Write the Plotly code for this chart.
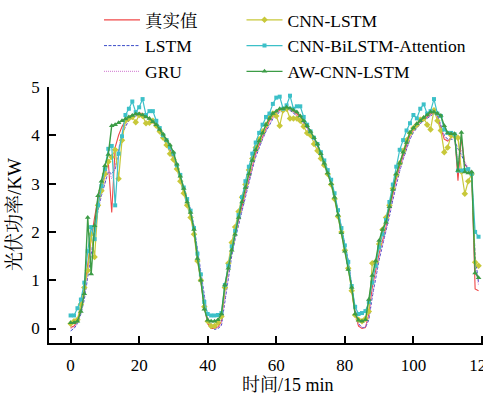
import plotly.graph_objects as go

# time index (15 min steps)
t = list(range(120))

truth = [0.02, 0.05, 0.15, 0.40, 0.80, 1.35, 1.85, 2.30, 2.70, 2.95,
         3.20, 3.45, 2.40, 3.75, 4.00, 4.18, 4.30, 4.38, 4.42, 4.45,
         4.46, 4.45, 4.40, 4.35, 4.28, 4.20, 4.10, 3.98, 3.85, 3.70,
         3.55, 3.35, 3.12, 2.90, 2.65, 2.40, 2.00, 1.50, 1.05, 0.45,
         0.10, 0.00, 0.00, 0.03, 0.15, 0.80, 1.25, 1.70, 1.98, 2.25,
         2.55, 2.85, 3.12, 3.38, 3.62, 3.80, 3.97, 4.15, 4.30, 4.40,
         4.48, 4.52, 4.54, 4.57, 4.56, 4.50, 4.45, 4.38, 4.28, 4.18,
         4.06, 3.94, 3.80, 3.62, 3.45, 3.25, 3.05, 2.75, 2.40, 2.05,
         1.70, 1.35, 0.80, 0.30, 0.05, 0.00, 0.02, 0.30, 0.85, 1.20,
         1.55, 1.82, 2.10, 2.45, 2.80, 3.10, 3.35, 3.58, 3.80, 4.00,
         4.12, 4.22, 4.28, 4.34, 4.38, 4.44, 4.48, 4.40, 4.15, 3.92,
         3.88, 3.95, 4.06, 3.06, 3.95, 3.40, 3.30, 3.22, 0.82, 0.78]

lstm = [-0.05, 0.00, 0.10, 0.30, 0.60, 1.05, 1.55, 2.00, 2.45, 2.75,
        3.00, 3.25, 3.20, 3.30, 3.70, 4.00, 4.18, 4.30, 4.36, 4.40,
        4.42, 4.42, 4.38, 4.32, 4.27, 4.18, 4.08, 3.97, 3.84, 3.70,
        3.56, 3.38, 3.16, 2.94, 2.70, 2.46, 2.12, 1.65, 1.18, 0.62,
        0.22, 0.05, -0.02, 0.00, 0.06, 0.55, 1.05, 1.50, 1.85, 2.15,
        2.45, 2.75, 3.05, 3.30, 3.55, 3.75, 3.92, 4.08, 4.22, 4.34,
        4.42, 4.48, 4.50, 4.52, 4.52, 4.46, 4.40, 4.34, 4.25, 4.15,
        4.03, 3.92, 3.78, 3.62, 3.45, 3.26, 3.05, 2.78, 2.45, 2.10,
        1.75, 1.40, 0.90, 0.40, 0.10, 0.02, 0.02, 0.18, 0.65, 1.05,
        1.42, 1.72, 2.00, 2.32, 2.66, 2.98, 3.26, 3.50, 3.72, 3.92,
        4.06, 4.16, 4.24, 4.30, 4.35, 4.40, 4.45, 4.42, 4.20, 4.00,
        3.92, 3.92, 3.90, 3.72, 3.60, 3.42, 3.30, 3.20, 1.50, 0.95]

gru = [0.00, 0.02, 0.12, 0.32, 0.65, 1.10, 1.60, 2.05, 2.48, 2.78,
       3.02, 3.28, 3.10, 3.35, 3.72, 4.02, 4.20, 4.32, 4.38, 4.42,
       4.43, 4.42, 4.38, 4.33, 4.26, 4.17, 4.07, 3.96, 3.83, 3.69,
       3.54, 3.36, 3.14, 2.92, 2.68, 2.44, 2.10, 1.62, 1.15, 0.58,
       0.18, 0.04, 0.00, 0.02, 0.08, 0.60, 1.08, 1.55, 1.88, 2.18,
       2.48, 2.78, 3.08, 3.33, 3.58, 3.77, 3.94, 4.10, 4.24, 4.36,
       4.44, 4.49, 4.51, 4.53, 4.52, 4.47, 4.41, 4.35, 4.26, 4.16,
       4.04, 3.92, 3.78, 3.61, 3.44, 3.25, 3.04, 2.76, 2.43, 2.08,
       1.73, 1.38, 0.86, 0.36, 0.08, 0.02, 0.03, 0.22, 0.70, 1.10,
       1.46, 1.75, 2.03, 2.36, 2.70, 3.02, 3.28, 3.52, 3.74, 3.94,
       4.08, 4.18, 4.25, 4.31, 4.36, 4.41, 4.46, 4.40, 4.18, 3.98,
       3.90, 3.93, 3.98, 3.50, 3.70, 3.45, 3.32, 3.22, 1.30, 0.90]

cnn_lstm = [0.10, 0.15, 0.18, 0.50, 0.85, 1.20, 1.95, 1.48, 2.55, 2.85,
            3.20, 3.45, 3.55, 3.70, 3.10, 3.90, 4.30, 4.35, 4.38, 4.27,
            4.42, 4.40, 4.25, 4.26, 4.30, 4.20, 4.08, 3.95, 3.80, 3.62,
            3.50, 3.30, 3.05, 2.80, 2.55, 2.30, 1.95, 1.40, 1.00, 0.45,
            0.15, 0.05, 0.05, 0.12, 0.25, 0.85, 1.35, 1.78, 2.10, 2.42,
            2.72, 2.98, 3.28, 3.52, 3.75, 3.92, 4.08, 4.22, 4.38, 4.45,
            4.40, 4.20, 4.52, 4.55, 4.35, 4.35, 4.35, 4.30, 4.18, 4.05,
            4.00, 3.82, 3.68, 3.52, 3.38, 3.20, 2.98, 2.68, 2.32, 2.00,
            1.62, 1.25, 0.78, 0.28, 0.18, 0.15, 0.20, 0.35, 1.35, 1.38,
            1.75, 2.05, 2.30, 2.55, 2.90, 3.18, 3.42, 3.68, 3.90, 4.05,
            4.15, 4.22, 4.32, 4.35, 4.22, 4.12, 4.52, 4.30, 4.10, 3.65,
            3.75, 4.00, 3.98, 3.95, 3.25, 2.79, 3.05, 3.20, 1.37, 1.30]

cnn_bilstm_att = [0.27, 0.27, 0.42, 0.60, 0.95, 1.60, 2.10, 1.85, 2.55, 2.95,
                  3.30, 3.72, 3.78, 2.55, 3.62, 3.98, 4.42, 4.55, 4.70, 4.48,
                  4.58, 4.75, 4.42, 4.50, 4.50, 4.30, 4.15, 4.00, 3.90, 3.75,
                  3.62, 3.38, 3.18, 2.92, 2.68, 2.44, 2.08, 1.55, 1.12, 0.55,
                  0.30, 0.27, 0.27, 0.28, 0.32, 0.90, 1.30, 1.70, 2.02, 2.35,
                  2.72, 3.05, 3.35, 3.62, 3.85, 4.05, 4.22, 4.38, 4.45, 4.65,
                  4.78, 4.80, 4.55, 4.62, 4.82, 4.55, 4.60, 4.60, 4.38, 4.22,
                  4.08, 3.95, 3.82, 3.65, 3.48, 3.28, 3.08, 2.80, 2.45, 2.08,
                  1.72, 1.38, 0.88, 0.45, 0.30, 0.32, 0.36, 0.55, 0.95, 1.30,
                  1.68, 1.95, 2.25, 2.62, 2.98, 3.35, 3.70, 3.90, 4.10, 4.25,
                  4.42, 4.35, 4.55, 4.64, 4.45, 4.50, 4.75, 4.45, 4.40, 4.12,
                  4.05, 4.05, 4.02, 3.27, 3.27, 3.28, 3.30, 3.20, 2.00, 1.90]

aw_cnn_lstm = [0.12, 0.12, 0.15, 0.35, 0.72, 2.30, 1.13, 2.13, 2.75, 3.05,
               3.37, 3.60, 4.20, 4.22, 4.26, 4.30, 4.34, 4.38, 4.41, 4.44,
               4.44, 4.42, 4.38, 4.35, 4.28, 4.22, 4.12, 4.02, 3.90, 3.80,
               3.65, 3.40, 3.15, 2.90, 2.62, 2.40, 2.05, 1.45, 1.00, 0.40,
               0.17, 0.15, 0.15, 0.18, 0.30, 0.90, 1.25, 1.62, 1.95, 2.30,
               2.62, 2.92, 3.20, 3.48, 3.70, 3.88, 4.05, 4.22, 4.35, 4.45,
               4.50, 4.55, 4.55, 4.58, 4.56, 4.52, 4.48, 4.40, 4.30, 4.20,
               4.08, 3.95, 3.82, 3.62, 3.42, 3.22, 3.00, 2.72, 2.35, 1.98,
               1.60, 1.22, 0.85, 0.30, 0.17, 0.15, 0.18, 0.60, 1.10, 1.40,
               1.82, 2.05, 2.20, 2.52, 2.88, 3.20, 3.42, 3.65, 3.85, 4.06,
               4.15, 4.24, 4.30, 4.37, 4.42, 4.48, 4.48, 4.45, 4.41, 4.20,
               4.05, 4.03, 4.03, 3.27, 4.06, 3.24, 3.22, 3.24, 1.15, 1.05]

x_ticks = [0, 20, 40, 60, 80, 100, 120]
y_ticks = [0, 1, 2, 3, 4, 5]

FONT = "Times New Roman, Liberation Serif, Noto Serif CJK SC, Noto Sans CJK SC, serif"

fig = go.Figure()
fig.add_trace(go.Scatter(x=t, y=truth, name="真实值", mode="lines",
                         line=dict(color="#F04848", width=1.1), legend="legend"))
fig.add_trace(go.Scatter(x=t, y=lstm, name="LSTM", mode="lines",
                         line=dict(color="#3A4CC8", width=1.0, dash="3px,1.5px"), legend="legend"))
fig.add_trace(go.Scatter(x=t, y=gru, name="GRU", mode="lines",
                         line=dict(color="#D98ED9", width=1.1, dash="1px,1px"), legend="legend"))
fig.add_trace(go.Scatter(x=t, y=cnn_lstm, name="CNN-LSTM", mode="lines+markers",
                         line=dict(color="#C8C83A", width=1.2),
                         marker=dict(symbol="diamond", size=5, color="#C8C83A"),
                         legend="legend2"))
fig.add_trace(go.Scatter(x=t, y=cnn_bilstm_att, name="CNN-BiLSTM-Attention", mode="lines+markers",
                         line=dict(color="#3CC0C8", width=1.2),
                         marker=dict(symbol="square", size=4, color="#3CC0C8"),
                         legend="legend2"))
fig.add_trace(go.Scatter(x=t, y=aw_cnn_lstm, name="AW-CNN-LSTM", mode="lines+markers",
                         line=dict(color="#3C9C46", width=1.4),
                         marker=dict(symbol="triangle-up", size=5, color="#3C9C46"),
                         legend="legend2"))

axis_common = dict(showline=True, linecolor="black", linewidth=1.5, ticks="inside",
                   ticklen=7, tickwidth=2, tickcolor="black", showgrid=False,
                   zeroline=False, automargin=False,
                   tickfont=dict(family=FONT, size=17, color="black"))

fig.update_layout(
    width=483, height=394,
    margin=dict(l=49, r=0, t=87, b=51, autoexpand=False),
    paper_bgcolor="white", plot_bgcolor="white",
    font=dict(family=FONT, color="black"),
    xaxis=dict(range=[-6.3, 120.3], tickvals=x_ticks, ticklabeloverflow="allow",
               ticklabelstandoff=6, **axis_common),
    yaxis=dict(range=[-0.3, 5], tickvals=y_ticks, ticklabelstandoff=4, **axis_common),
    legend=dict(xref="container", yref="container", x=0.205, y=0.995,
                xanchor="left", yanchor="top", font=dict(family=FONT, size=17.5),
                bgcolor="rgba(0,0,0,0)", itemwidth=36, tracegroupgap=0),
    legend2=dict(xref="container", yref="container", x=0.500, y=0.995,
                 xanchor="left", yanchor="top", font=dict(family=FONT, size=17.5),
                 bgcolor="rgba(0,0,0,0)", itemwidth=36, tracegroupgap=0),
    showlegend=True,
    annotations=[
        dict(text="时间/15 min", xref="paper", yref="paper", x=0.55, y=0,
             yshift=-42, showarrow=False, yanchor="middle",
             font=dict(family=FONT, size=18, color="black")),
        dict(text="光伏功率/KW", xref="paper", yref="paper", x=0, y=0.5,
             xshift=-35, showarrow=False, textangle=-90, xanchor="center",
             font=dict(family=FONT, size=19, color="black")),
    ],
)

fig.write_html("out.html")
